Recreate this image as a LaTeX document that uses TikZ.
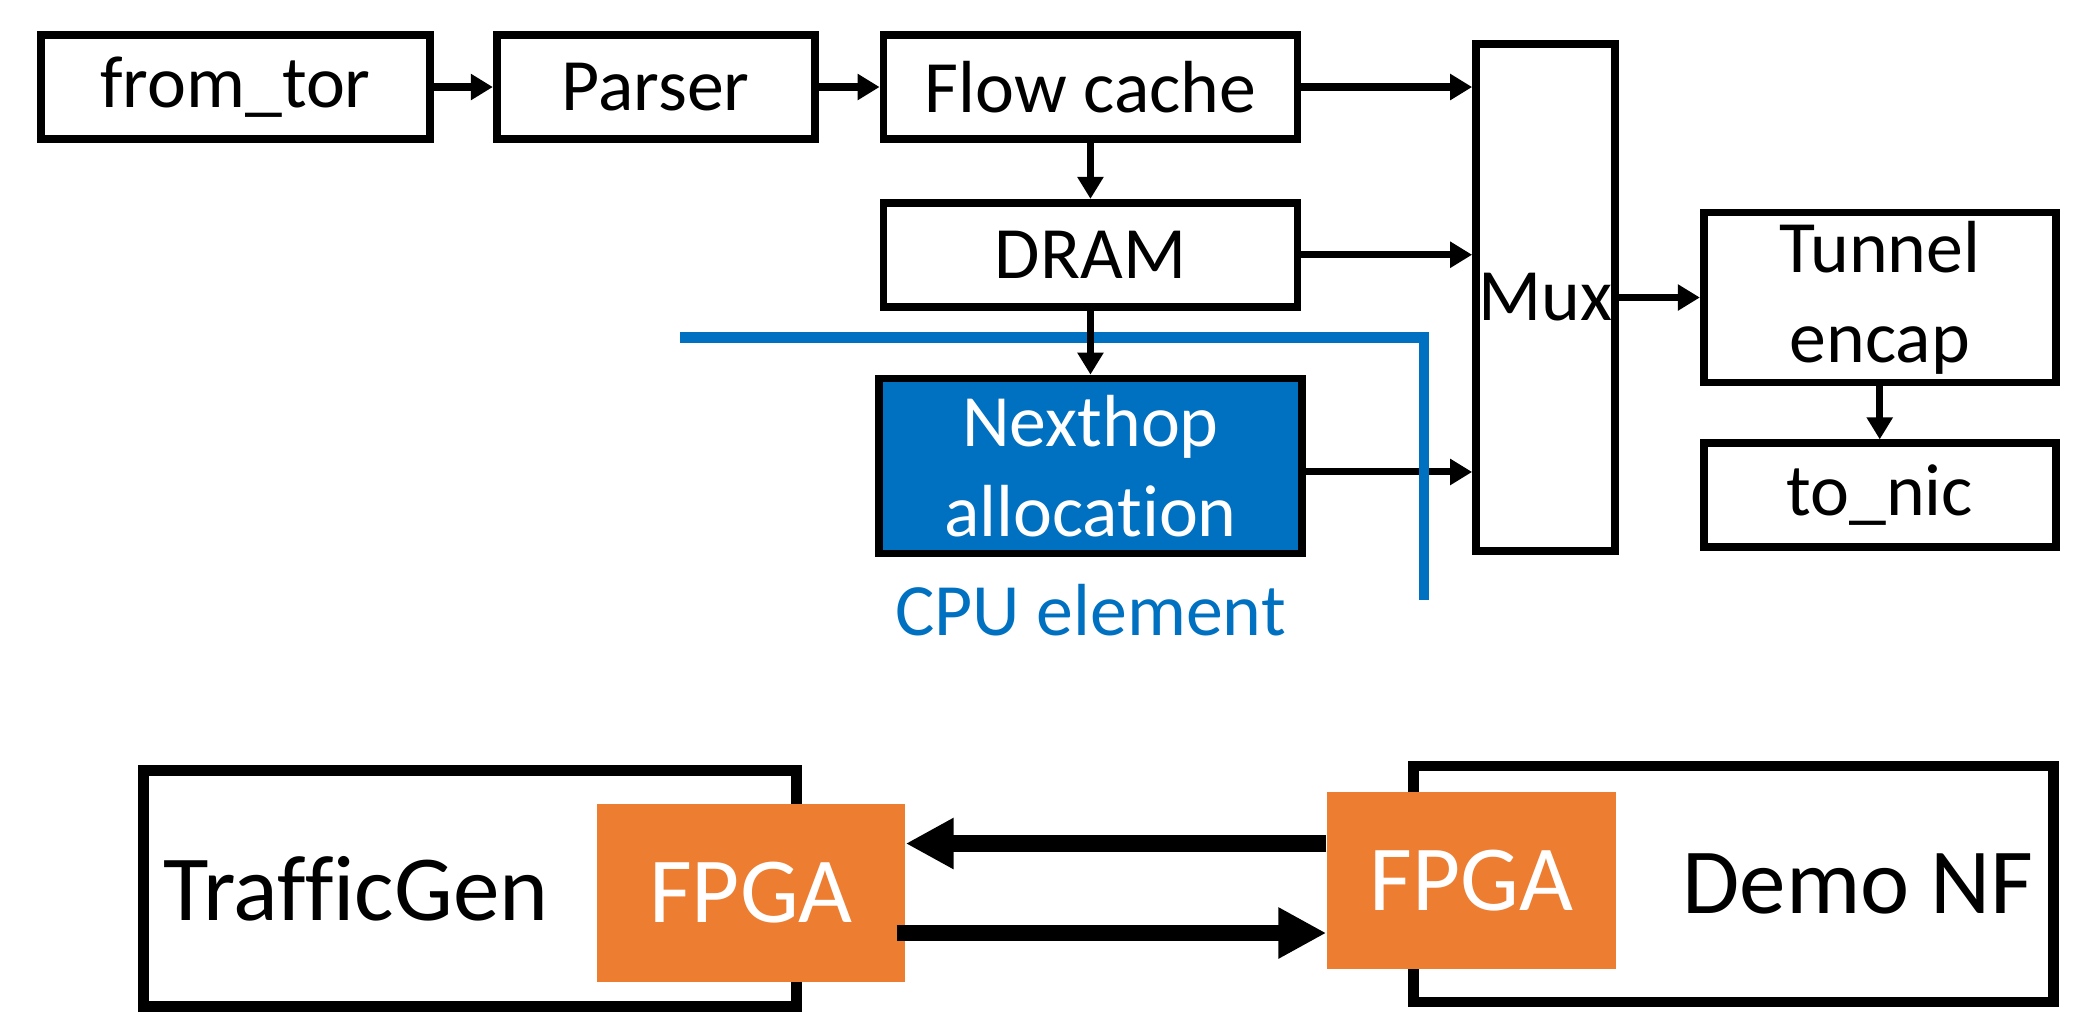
\documentclass[tikz,border=0pt]{standalone}
\usepackage{fontspec}
\setmainfont{Carlito}[Ligatures=NoCommon]
\usepackage{xcolor}
\usepackage{tikz}
\usetikzlibrary{arrows.meta, positioning}

\definecolor{cpublue}{RGB}{0,112,192}
\definecolor{fpgaorange}{RGB}{237,125,49}
\newcommand{\boxfont}{\fontsize{21}{25.5}\selectfont}
\newcommand{\hostfont}{\fontsize{26.5}{31}\selectfont}

\begin{document}
\begin{tikzpicture}[
  block/.style={draw, line width=2.2pt, minimum width=3.2cm,
                minimum height=1.04cm, inner sep=0pt, align=center, font=\boxfont},
  cpublock/.style={block, fill=cpublue, text=white},
  host/.style={draw, line width=3.1pt, minimum height=2.36cm, inner xsep=0.2cm,
               inner ysep=0pt, font=\hostfont},
  fpga/.style={fill=fpgaorange, text=white, inner sep=0pt, font=\hostfont},
  arr/.style={-{Triangle[length=2.2mm, width=2.5mm]}, line width=2pt},
  bigarr/.style={-{Triangle[length=4.8mm, width=4.8mm]}, line width=4.7pt},
  cpuline/.style={cpublue, line width=3.1pt}
]
  \useasboundingbox (0,0) rectangle (20.98,-10.15);

  % Pipeline
  \node[block, minimum width=3.89cm] (fromtor) at (2.355,-0.87) {from\_tor};
  \node[block, minimum width=3.18cm, right=0.59cm of fromtor] (parser) {Parser};
  \node[block, minimum width=4.14cm, right=0.61cm of parser] (flow) {Flow cache};
  \node[block, minimum width=4.14cm, below=0.56cm of flow] (dram) {DRAM};
  \node[cpublock, minimum width=4.23cm, minimum height=1.75cm,
        below=0.64cm of dram] (nexthop) {Nexthop\\allocation};
  \node[below=0.26cm of nexthop, inner sep=0pt, font=\boxfont,
        text=cpublue] (cpulabel) {CPU element};

  % Output side
  \node[block, minimum width=1.39cm, minimum height=5.07cm] (mux) at (15.455,-2.975) {Mux};
  \node[block, minimum width=3.52cm, minimum height=1.70cm,
        right=0.81cm of mux] (tunnel) {Tunnel\\encap};
  \node[block, minimum width=3.52cm, below=0.53cm of tunnel] (tonic) {to\_nic};

  % Testbed
  \node[host, text width=6.13cm, align=flush left] (tgen) at (4.70,-8.885) {TrafficGen};
  \node[host, text width=6.0cm, align=flush right] (demo) at (17.335,-8.84) {Demo NF};
  \node[fpga, minimum width=3.08cm, minimum height=1.78cm] (fpgaL) at (7.51,-8.93) {FPGA};
  \node[fpga, minimum width=2.89cm, minimum height=1.77cm] (fpgaR) at (14.715,-8.805) {FPGA};

  % wires
  \draw[arr] (fromtor) -- (parser);
  \draw[arr] (parser) -- (flow);
  \draw[arr] (flow) -- (dram);
  \draw[arr] (flow.east) -- (flow.east -| mux.west);
  \draw[arr] (dram.east) -- (dram.east -| mux.west);
  \draw[arr] ([yshift=-0.06cm]nexthop.east) -- ([yshift=-0.06cm]nexthop.east -| mux.west);
  \draw[arr] (mux) -- (tunnel);
  \draw[arr] (tunnel) -- (tonic);

  % CPU boundary
  \coordinate (cpuL) at (6.80,-3.375);
  \coordinate (cpuB) at (14.24,-6.00);
  \draw[cpuline] (cpuL) -| (cpuB);
  \draw[arr] (dram) -- (nexthop);

  % links between the FPGAs
  \coordinate (backR) at ([yshift=0.37cm]fpgaR.west);
  \coordinate (fwdL) at ([xshift=-0.09cm, yshift=-0.40cm]fpgaL.east);
  \draw[bigarr] (backR) -- (backR -| fpgaL.east);
  \draw[bigarr] (fwdL) -- (fwdL -| fpgaR.west);
\end{tikzpicture}
\end{document}
